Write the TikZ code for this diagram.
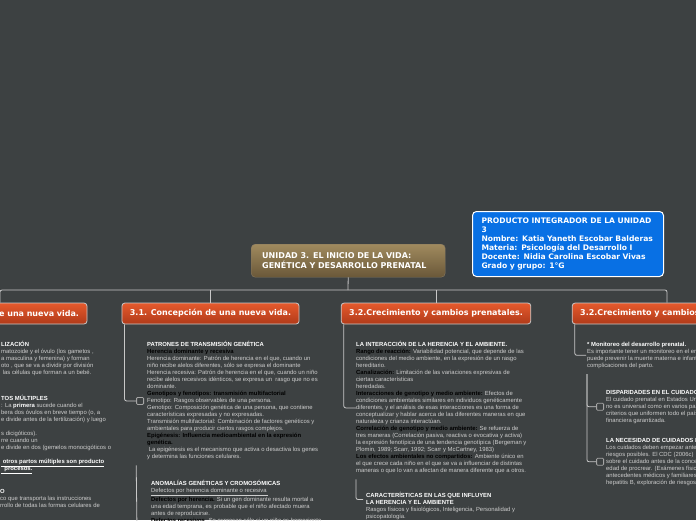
\documentclass[tikz,border=0pt]{standalone}
\usepackage{fontspec}
\setmainfont{Liberation Sans}
\newfontfamily\hdfont{DejaVu Sans}
\usetikzlibrary{positioning}
\definecolor{canvas}{RGB}{61,65,66}
\definecolor{topicblue}{RGB}{8,112,228}
\definecolor{roottop}{RGB}{160,138,94}
\definecolor{rootbot}{RGB}{106,88,57}
\definecolor{branchtop}{RGB}{230,90,45}
\definecolor{branchbot}{RGB}{176,58,25}
\definecolor{wire}{RGB}{200,200,200}
\definecolor{notegrey}{RGB}{205,205,205}
\definecolor{boxgrey}{RGB}{165,165,165}
\newcommand{\hd}[1]{\textcolor{white}{\textbf{#1}}}
\newcommand{\kb}[1]{\textcolor{black}{\textbf{#1}}}
\tikzset{
    rootbox/.style={rectangle, rounded corners=4pt, top color=roottop, bottom color=rootbot, draw=rootbot!80, anchor=north west, minimum height=33pt, text width=172pt, inner xsep=11pt, align=left, text=white, font=\hdfont\bfseries\fontsize{8}{9.3}\selectfont},
    infobox/.style={rectangle, rounded corners=4pt, fill=topicblue, draw=white, line width=1pt, anchor=north west, minimum height=65pt, text width=173pt, inner xsep=9pt, align=left, text=white, font=\hdfont\bfseries\fontsize{7.6}{8.9}\selectfont},
    branchbox/.style={rectangle, rounded corners=3pt, top color=branchtop, bottom color=branchbot, draw=wire, line width=0.8pt, minimum height=21pt, inner xsep=8pt, text=white, font=\hdfont\bfseries\fontsize{8}{9}\selectfont},
    note/.style={anchor=north west, inner sep=0pt, align=left, text=notegrey, font=\fontsize{5.9}{7}\selectfont},
    chk/.style={rectangle, rounded corners=1pt, draw=boxgrey, fill=canvas, line width=0.8pt, minimum size=7pt, inner sep=0pt},
    link/.style={draw=wire, line width=0.8pt, rounded corners=2pt}
}
\begin{document}
\begin{tikzpicture}[x=1pt,y=-1pt]
    \useasboundingbox (0,0) rectangle (696,520);
    \fill[canvas] (0,0) rectangle (696,520);
    \clip (0,0) rectangle (696,520);

    % Main topic and info card
    \node [rootbox] (root) at (251,244) {UNIDAD 3. EL INICIO DE LA VIDA:\\GENÉTICA Y DESARROLLO PRENATAL};
    \node [infobox] (info) at (472,211) {PRODUCTO INTEGRADOR DE LA UNIDAD\\3\\Nombre: Katia Yaneth Escobar Balderas\\Materia: Psicología del Desarrollo I\\Docente: Nidia Carolina Escobar Vivas\\Grado y grupo: 1°G};

    % Branches
    \node [branchbox, text width=158pt, align=right] (b1) at (0,313.5) {e una nueva vida.};
    \node [branchbox, minimum width=173pt] (b2) at (210.5,313.5) {3.1. Concepción de una nueva vida.};
    \node [branchbox, minimum width=186pt] (b3) at (436,313.5) {3.2.Crecimiento y cambios prenatales.};
    \node [branchbox, minimum width=186pt] (b4) at (667,313.5) {3.2.Crecimiento y cambios prenatales.};

    % First branch notes
    \node [note] (fert) at (1,341.5) {\strut\hd{LIZACIÓN}\\
        matozoide y el óvulo (los gametos ,\\
        a masculina y femenina) y forman\\
        oto , que se va a dividir por división\\
        \ las células que forman a un bebé.};
    \node [note] (partos) at (1,395.5) {\strut\hd{TOS MÚLTIPLES}\\
        : La \hd{primera} sucede cuando el\\
        bera dos óvulos en breve tiempo (o, a\\
        e divide antes de la fertilización) y luego\\
        ~\\
        s dicigóticos).\\
        rre cuando un\\
        e divide en dos (gemelos monocigóticos o\\
        ~\\
        \hd{\underline{ otros partos múltiples son producto}}\\
        \hd{\underline{\ \ procesos.}}};
    \node [note] (adn) at (0,488.5) {\strut\hd{O}\\
        co que transporta las instrucciones\\
        rrollo de todas las formas celulares de};

    % 3.1 notes
    \node [note] (pat) at (147,341.5) {\strut\hd{PATRONES DE TRANSMISIÓN GENÉTICA}\\
        \kb{Herencia dominante y recesiva}\\
        Herencia dominante: Patrón de herencia en el que, cuando un\\
        niño recibe alelos diferentes, sólo se expresa el dominante\\
        Herencia recesiva: Patrón de herencia en el que, cuando un niño\\
        recibe alelos recesivos idénticos, se expresa un\ \ rasgo que no es\\
        dominante.\\
        \kb{Genotipos y fenotipos: transmisión multifactorial}\\
        Fenotipo: Rasgos observables de una persona.\\
        Genotipo: Composición genética de una persona, que contiene\\
        características expresadas y no expresadas.\\
        Transmisión multifactorial: Combinación de factores genéticos y\\
        ambientales para producir ciertos rasgos complejos.\\
        \kb{Epigénesis: Influencia medioambiental en la expresión}\\
        \kb{genética.}\\
        \ La epigénesis es el mecanismo que activa o desactiva los genes\\
        y determina las funciones celulares.};
    \node [chk, left=3pt of pat] (cbpat) {};
    \node [note] (anom) at (151,480.5) {\strut\hd{ANOMALÍAS GENÉTICAS Y CROMOSÓMICAS}\\
        \underline{Defectos por herencia dominante o recesiva }\\
        \kb{Defectos por herencia.} Si un gen dominante resulta mortal a\\
        una edad temprana, es probable que el niño afectado muera\\
        antes de reproducirse.\\
        \kb{Defectos recesivos.} Se expresan sólo si un niño es homocigoto};
    \coordinate (anomend) at (137,530);

    % 3.2 notes
    \node [note] (rng) at (356,341.5) {\strut\hd{LA INTERACCIÓN DE LA HERENCIA Y EL AMBIENTE.}\\
        \kb{Rango de reacción:} Variabilidad potencial, que depende de las\\
        condiciones del medio ambiente, en la expresión de un rasgo\\
        hereditario.\\
        \kb{Canalización:} Limitación de las variaciones expresivas de\\
        ciertas características\\
        heredadas.\\
        \kb{Interacciones de genotipo y medio ambiente:} Efectos de\\
        condiciones ambientales similares en individuos genéticamente\\
        diferentes, y el análisis de esas interacciones es una forma de\\
        conceptualizar y hablar acerca de las diferentes maneras en que\\
        naturaleza y crianza interactúan.\\
        \kb{Correlación de genotipo y medio ambiente:} Se refuerza de\\
        tres maneras (Correlación pasiva, reactiva o evocativa y activa)\\
        la expresión fenotípica de una tendencia genotípica (Bergeman y\\
        Plomin, 1989; Scarr, 1992; Scarr y McCartney, 1983)\\
        \kb{Los efectos ambientales no compartidos:} Ambiente único en\\
        el que crece cada niño en el que se va a influenciar de distintas\\
        maneras o que lo van a afectan de manera diferente que a otros.};
    \node [note] (car) at (366,492.5) {\strut\hd{CARACTERÍSTICAS EN LAS QUE INFLUYEN}\\
        \hd{LA HERENCIA Y EL AMBIENTE}\\
        Rasgos físicos y fisiológicos, Inteligencia, Personalidad y\\
        psicopatología.};

    % Second 3.2 notes
    \node [note] (mon) at (587,341.5) {\strut\hd{* Monitoreo del desarrollo prenatal.}\\
        Es importante tener un monitoreo en el embarazo\\
        puede prevenir la muerte materna e infantil\\
        complicaciones del parto.};
    \node [note] (disp) at (606,389.5) {\strut\hd{DISPARIDADES EN EL CUIDADO PRENATAL}\\
        El cuidado prenatal en Estados Unidos\\
        no es universal como en varios países\\
        criterios que uniformen todo el país\\
        financiera garantizada.};
    \node [chk, left=2pt of disp] (cbdisp) {};
    \node [note] (nec) at (606,437.5) {\strut\hd{LA NECESIDAD DE CUIDADOS PRENATALES}\\
        Los cuidados deben empezar antes\\
        riesgos posibles. El CDC (2006c)\\
        sobre el cuidado antes de la concepción\\
        edad de procrear. (Exámenes físicos\\
        antecedentes médicos y familiares\\
        hepatitis B, exploración de riesgos};
    \node [chk, left=2pt of nec] (cbnec) {};

    % Connections
    \coordinate (bus) at (348,290);
    \draw [link] (root.south) -- (bus);
    \draw [link] (b1.north) |- (bus) -| (b4.north);
    \draw [link] (b2.north) -- (b2.north |- bus);
    \draw [link] (b3.north) -- (b3.north |- bus);

    \draw [link] ([xshift=3pt]b2.south west) |- (cbpat.west);
    \draw [link] ([yshift=-5pt]cbpat.west |- pat.south) -- (anomend);
    \draw [link] ([xshift=3pt]b3.south west) |- (rng.west);
    \draw [link] ([yshift=-5pt]rng.south west) |- ([xshift=-3pt,yshift=-7pt]car.north west);
    \draw [link] ([xshift=3pt]b4.south west) |- ([xshift=-1pt]mon.west);
    \draw [link] ([yshift=-5pt]mon.south west) |- (cbdisp.west);
    \draw [link] ([yshift=-5pt]mon.south west) |- (cbnec.west);

\end{tikzpicture}
\end{document}
